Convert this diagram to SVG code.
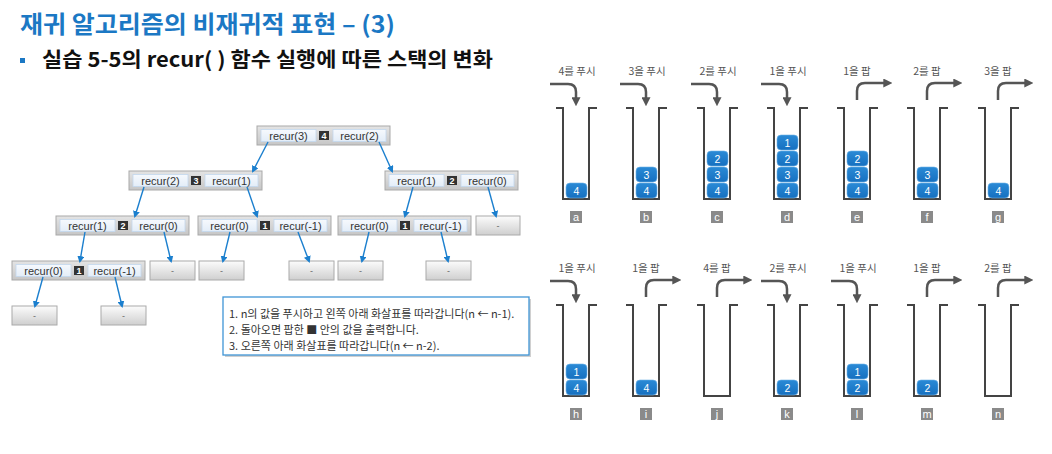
<svg xmlns="http://www.w3.org/2000/svg" width="1052" height="454" viewBox="0 0 1052 454">
<defs>
  <linearGradient id="gOuter" x1="0" y1="0" x2="0" y2="1">
    <stop offset="0" stop-color="#e4e4e4"/><stop offset="1" stop-color="#c6c6c6"/>
  </linearGradient>
  <linearGradient id="gDash" x1="0" y1="0" x2="0" y2="1">
    <stop offset="0" stop-color="#fcfcfc"/><stop offset="1" stop-color="#cfcfcf"/>
  </linearGradient>
  <linearGradient id="gCell" x1="0" y1="0" x2="0" y2="1">
    <stop offset="0" stop-color="#f6f9fd"/><stop offset="1" stop-color="#e3edf8"/>
  </linearGradient>
  <linearGradient id="gBlk" x1="0" y1="0" x2="0" y2="1">
    <stop offset="0" stop-color="#2a8ad6"/><stop offset="1" stop-color="#1670c0"/>
  </linearGradient>
  <marker id="ab" viewBox="0 0 10 10" refX="7" refY="5" markerWidth="7" markerHeight="7" orient="auto" markerUnits="userSpaceOnUse">
    <path d="M0,0 L10,5 L0,10 z" fill="#1b7fce"/>
  </marker>
  <marker id="ag" viewBox="0 0 10 10" refX="3" refY="5" markerWidth="9" markerHeight="9" orient="auto" markerUnits="userSpaceOnUse">
    <path d="M0,0 L10,5 L0,10 z" fill="#555555"/>
  </marker>
</defs>
<style>
  .title{font-family:"Noto Sans CJK KR","Noto Sans",sans-serif;font-weight:700;font-size:23.5px;fill:#1b78c4}
  .sub{font-family:"Noto Sans CJK KR","Noto Sans",sans-serif;font-weight:700;font-size:20.5px;fill:#111111}
  .outer{fill:url(#gOuter);stroke:#a9a9a9;stroke-width:1}
  .cell{fill:url(#gCell);stroke:#c3d7ee;stroke-width:0.8}
  .sq{fill:#333333}
  .sqt{font-family:"Liberation Sans",Arial,sans-serif;font-weight:700;font-size:9px;fill:#ffffff;text-anchor:middle}
  .ct{font-family:"Liberation Sans",Arial,sans-serif;font-size:11px;fill:#333333;text-anchor:middle}
  .dash{fill:url(#gDash);stroke:#aaaaaa;stroke-width:1}
  .dt{font-family:"Liberation Sans",Arial,sans-serif;font-size:9px;fill:#666666;text-anchor:middle}
  .conn path{fill:none;stroke:#1b7fce;stroke-width:1.4}
  .lg{fill:#ffffff;stroke:#3f95d6;stroke-width:1.3}
  .lgs{fill:#d0d0d0}
  .lt{font-family:"Noto Sans CJK KR","Noto Sans",sans-serif;font-size:11px;fill:#333333}
  .sl{font-family:"Noto Sans CJK KR","Noto Sans",sans-serif;font-size:10.5px;fill:#555555;text-anchor:middle}
  .arr{fill:none;stroke:#555555;stroke-width:2.5}
  .wall{fill:none;stroke:#444444;stroke-width:2}
  .blk{fill:url(#gBlk);stroke:#6fb2e6;stroke-width:0.6}
  .bt{font-family:"Liberation Sans",Arial,sans-serif;font-size:10.5px;fill:#ffffff;text-anchor:middle}
  .lb{fill:#8a8a8a}
  .lbt{font-family:"Liberation Sans",Arial,sans-serif;font-size:11px;fill:#ffffff;text-anchor:middle}
</style>

<g id="header">
  <text class="title" x="20" y="33" textLength="375" lengthAdjust="spacingAndGlyphs">재귀 알고리즘의 비재귀적 표현 – (3)</text>
  <rect x="20" y="58" width="5" height="5" fill="#1b78c4"/>
  <text class="sub" x="42" y="66.5" textLength="451" lengthAdjust="spacingAndGlyphs">실습 5-5의 recur( ) 함수 실행에 따른 스택의 변화</text>
</g>

<!-- tree nodes -->
<g id="n1">
  <rect class="outer" x="257" y="126" width="133" height="19"/>
  <rect class="cell" x="261" y="129.5" width="55" height="12"/>
  <rect class="sq" x="319" y="131" width="10" height="9"/>
  <text class="sqt" x="324" y="138.8">4</text>
  <rect class="cell" x="333" y="129.5" width="53" height="12"/>
  <text class="ct" x="288.5" y="139.5">recur(3)</text>
  <text class="ct" x="359.5" y="139.5">recur(2)</text>
</g>
<g id="n2">
  <rect class="outer" x="129" y="171" width="133" height="19"/>
  <rect class="cell" x="133" y="174.5" width="55" height="12"/>
  <rect class="sq" x="191" y="176" width="10" height="9"/>
  <text class="sqt" x="196" y="183.8">3</text>
  <rect class="cell" x="205" y="174.5" width="53" height="12"/>
  <text class="ct" x="160.5" y="184.5">recur(2)</text>
  <text class="ct" x="231.5" y="184.5">recur(1)</text>
</g>
<g id="n3">
  <rect class="outer" x="385" y="171" width="133" height="19"/>
  <rect class="cell" x="389" y="174.5" width="55" height="12"/>
  <rect class="sq" x="447" y="176" width="10" height="9"/>
  <text class="sqt" x="452" y="183.8">2</text>
  <rect class="cell" x="461" y="174.5" width="53" height="12"/>
  <text class="ct" x="416.5" y="184.5">recur(1)</text>
  <text class="ct" x="487.5" y="184.5">recur(0)</text>
</g>
<g id="n4">
  <rect class="outer" x="56" y="216" width="133" height="19"/>
  <rect class="cell" x="60" y="219.5" width="55" height="12"/>
  <rect class="sq" x="118" y="221" width="10" height="9"/>
  <text class="sqt" x="123" y="228.8">2</text>
  <rect class="cell" x="132" y="219.5" width="53" height="12"/>
  <text class="ct" x="87.5" y="229.5">recur(1)</text>
  <text class="ct" x="158.5" y="229.5">recur(0)</text>
</g>
<g id="n5">
  <rect class="outer" x="198" y="216" width="133" height="19"/>
  <rect class="cell" x="202" y="219.5" width="55" height="12"/>
  <rect class="sq" x="260" y="221" width="10" height="9"/>
  <text class="sqt" x="265" y="228.8">1</text>
  <rect class="cell" x="274" y="219.5" width="53" height="12"/>
  <text class="ct" x="229.5" y="229.5">recur(0)</text>
  <text class="ct" x="300.5" y="229.5">recur(-1)</text>
</g>
<g id="n6">
  <rect class="outer" x="338" y="216" width="133" height="19"/>
  <rect class="cell" x="342" y="219.5" width="55" height="12"/>
  <rect class="sq" x="400" y="221" width="10" height="9"/>
  <text class="sqt" x="405" y="228.8">1</text>
  <rect class="cell" x="414" y="219.5" width="53" height="12"/>
  <text class="ct" x="369.5" y="229.5">recur(0)</text>
  <text class="ct" x="440.5" y="229.5">recur(-1)</text>
</g>
<g id="n7">
  <rect class="outer" x="12" y="261" width="133" height="19"/>
  <rect class="cell" x="16" y="264.5" width="55" height="12"/>
  <rect class="sq" x="74" y="266" width="10" height="9"/>
  <text class="sqt" x="79" y="273.8">1</text>
  <rect class="cell" x="88" y="264.5" width="53" height="12"/>
  <text class="ct" x="43.5" y="274.5">recur(0)</text>
  <text class="ct" x="114.5" y="274.5">recur(-1)</text>
</g>
<g id="d1"><rect class="dash" x="476" y="216" width="44" height="19"/><text class="dt" x="498" y="228.5">-</text></g>
<g id="d2"><rect class="dash" x="150" y="261" width="45" height="19"/><text class="dt" x="172.5" y="273.5">-</text></g>
<g id="d3"><rect class="dash" x="199" y="261" width="45" height="19"/><text class="dt" x="221.5" y="273.5">-</text></g>
<g id="d4"><rect class="dash" x="289" y="261" width="45" height="19"/><text class="dt" x="311.5" y="273.5">-</text></g>
<g id="d5"><rect class="dash" x="338" y="261" width="45" height="19"/><text class="dt" x="360.5" y="273.5">-</text></g>
<g id="d6"><rect class="dash" x="426" y="261" width="45" height="19"/><text class="dt" x="448.5" y="273.5">-</text></g>
<g id="d7"><rect class="dash" x="12" y="306" width="45" height="19"/><text class="dt" x="34.5" y="318.5">-</text></g>
<g id="d8"><rect class="dash" x="101" y="306" width="45" height="19"/><text class="dt" x="123.5" y="318.5">-</text></g>

<g id="connectors" class="conn">
  <path d="M268,142 L253,171" marker-end="url(#ab)"/>
  <path d="M379,142 L392,171" marker-end="url(#ab)"/>
  <path d="M144,187 L135,216" marker-end="url(#ab)"/>
  <path d="M247,187 L257,216" marker-end="url(#ab)"/>
  <path d="M413,187 L405,216" marker-end="url(#ab)"/>
  <path d="M488,187 L496,216" marker-end="url(#ab)"/>
  <path d="M85,232 L80,261" marker-end="url(#ab)"/>
  <path d="M164,232 L171,261" marker-end="url(#ab)"/>
  <path d="M230,232 L223,261" marker-end="url(#ab)"/>
  <path d="M298,232 L309,261" marker-end="url(#ab)"/>
  <path d="M369,232 L362,261" marker-end="url(#ab)"/>
  <path d="M441,232 L448,261" marker-end="url(#ab)"/>
  <path d="M43,277 L35,306" marker-end="url(#ab)"/>
  <path d="M115,277 L122,306" marker-end="url(#ab)"/>
</g>

<g id="legend">
  <rect class="lgs" x="225" y="299" width="306" height="58"/>
  <rect class="lg" x="223" y="297" width="306" height="58"/>
  <text class="lt" x="229" y="318">1. n의 값을 푸시하고 왼쪽 아래 화살표를 따라갑니다(n ← n-1).</text>
  <text class="lt" x="229" y="334">2. 돌아오면 팝한 ■ 안의 값을 출력합니다.</text>
  <text class="lt" x="229" y="350">3. 오른쪽 아래 화살표를 따라갑니다(n ← n-2).</text>
</g>

<!-- stacks top row -->
<g id="stack-a">
  <text class="sl" x="577" y="75">4를 푸시</text>
  <path class="arr" d="M550,84 H568 Q576,84 576,92 V100" marker-end="url(#ag)"/>
  <path class="wall" d="M556,108 H563 V199 H589 V108 H597"/>
  <rect class="blk" x="566" y="183" width="21" height="15" rx="4"/><text class="bt" x="576.5" y="194.5">4</text>
  <rect class="lb" x="570" y="211" width="12" height="12"/><text class="lbt" x="576" y="221">a</text>
</g>
<g id="stack-b">
  <text class="sl" x="647" y="75">3을 푸시</text>
  <path class="arr" d="M620,84 H638 Q646,84 646,92 V100" marker-end="url(#ag)"/>
  <path class="wall" d="M626,108 H633 V199 H659 V108 H667"/>
  <rect class="blk" x="636" y="183" width="21" height="15" rx="4"/><text class="bt" x="646.5" y="194.5">4</text>
  <rect class="blk" x="636" y="167" width="21" height="15" rx="4"/><text class="bt" x="646.5" y="178.5">3</text>
  <rect class="lb" x="640" y="211" width="12" height="12"/><text class="lbt" x="646" y="221">b</text>
</g>
<g id="stack-c">
  <text class="sl" x="718" y="75">2를 푸시</text>
  <path class="arr" d="M691,84 H709 Q717,84 717,92 V100" marker-end="url(#ag)"/>
  <path class="wall" d="M697,108 H704 V199 H730 V108 H738"/>
  <rect class="blk" x="707" y="183" width="21" height="15" rx="4"/><text class="bt" x="717.5" y="194.5">4</text>
  <rect class="blk" x="707" y="167" width="21" height="15" rx="4"/><text class="bt" x="717.5" y="178.5">3</text>
  <rect class="blk" x="707" y="151" width="21" height="15" rx="4"/><text class="bt" x="717.5" y="162.5">2</text>
  <rect class="lb" x="711" y="211" width="12" height="12"/><text class="lbt" x="717" y="221">c</text>
</g>
<g id="stack-d">
  <text class="sl" x="788" y="75">1을 푸시</text>
  <path class="arr" d="M761,84 H779 Q787,84 787,92 V100" marker-end="url(#ag)"/>
  <path class="wall" d="M767,108 H774 V199 H800 V108 H808"/>
  <rect class="blk" x="777" y="183" width="21" height="15" rx="4"/><text class="bt" x="787.5" y="194.5">4</text>
  <rect class="blk" x="777" y="167" width="21" height="15" rx="4"/><text class="bt" x="787.5" y="178.5">3</text>
  <rect class="blk" x="777" y="151" width="21" height="15" rx="4"/><text class="bt" x="787.5" y="162.5">2</text>
  <rect class="blk" x="777" y="135" width="21" height="15" rx="4"/><text class="bt" x="787.5" y="146.5">1</text>
  <rect class="lb" x="781" y="211" width="12" height="12"/><text class="lbt" x="787" y="221">d</text>
</g>
<g id="stack-e">
  <text class="sl" x="857" y="75">1을 팝</text>
  <path class="arr" d="M857,100 V91 Q857,83 865,83 H886" marker-end="url(#ag)"/>
  <path class="wall" d="M837,108 H844 V199 H870 V108 H878"/>
  <rect class="blk" x="847" y="183" width="21" height="15" rx="4"/><text class="bt" x="857.5" y="194.5">4</text>
  <rect class="blk" x="847" y="167" width="21" height="15" rx="4"/><text class="bt" x="857.5" y="178.5">3</text>
  <rect class="blk" x="847" y="151" width="21" height="15" rx="4"/><text class="bt" x="857.5" y="162.5">2</text>
  <rect class="lb" x="851" y="211" width="12" height="12"/><text class="lbt" x="857" y="221">e</text>
</g>
<g id="stack-f">
  <text class="sl" x="927" y="75">2를 팝</text>
  <path class="arr" d="M927,100 V91 Q927,83 935,83 H956" marker-end="url(#ag)"/>
  <path class="wall" d="M907,108 H914 V199 H940 V108 H948"/>
  <rect class="blk" x="917" y="183" width="21" height="15" rx="4"/><text class="bt" x="927.5" y="194.5">4</text>
  <rect class="blk" x="917" y="167" width="21" height="15" rx="4"/><text class="bt" x="927.5" y="178.5">3</text>
  <rect class="lb" x="921" y="211" width="12" height="12"/><text class="lbt" x="927" y="221">f</text>
</g>
<g id="stack-g">
  <text class="sl" x="998" y="75">3을 팝</text>
  <path class="arr" d="M998,100 V91 Q998,83 1006,83 H1027" marker-end="url(#ag)"/>
  <path class="wall" d="M978,108 H985 V199 H1011 V108 H1019"/>
  <rect class="blk" x="988" y="183" width="21" height="15" rx="4"/><text class="bt" x="998.5" y="194.5">4</text>
  <rect class="lb" x="992" y="211" width="12" height="12"/><text class="lbt" x="998" y="221">g</text>
</g>

<!-- stacks bottom row -->
<g id="stack-h">
  <text class="sl" x="577" y="272">1을 푸시</text>
  <path class="arr" d="M550,281 H568 Q576,281 576,289 V297" marker-end="url(#ag)"/>
  <path class="wall" d="M556,305 H563 V396 H589 V305 H597"/>
  <rect class="blk" x="566" y="380" width="21" height="15" rx="4"/><text class="bt" x="576.5" y="391.5">4</text>
  <rect class="blk" x="566" y="364" width="21" height="15" rx="4"/><text class="bt" x="576.5" y="375.5">1</text>
  <rect class="lb" x="570" y="408" width="12" height="12"/><text class="lbt" x="576" y="418">h</text>
</g>
<g id="stack-i">
  <text class="sl" x="646" y="272">1을 팝</text>
  <path class="arr" d="M646,297 V288 Q646,280 654,280 H675" marker-end="url(#ag)"/>
  <path class="wall" d="M626,305 H633 V396 H659 V305 H667"/>
  <rect class="blk" x="636" y="380" width="21" height="15" rx="4"/><text class="bt" x="646.5" y="391.5">4</text>
  <rect class="lb" x="640" y="408" width="12" height="12"/><text class="lbt" x="646" y="418">i</text>
</g>
<g id="stack-j">
  <text class="sl" x="717" y="272">4를 팝</text>
  <path class="arr" d="M717,297 V288 Q717,280 725,280 H746" marker-end="url(#ag)"/>
  <path class="wall" d="M697,305 H704 V396 H730 V305 H738"/>
  <rect class="lb" x="711" y="408" width="12" height="12"/><text class="lbt" x="717" y="418">j</text>
</g>
<g id="stack-k">
  <text class="sl" x="788" y="272">2를 푸시</text>
  <path class="arr" d="M761,281 H779 Q787,281 787,289 V297" marker-end="url(#ag)"/>
  <path class="wall" d="M767,305 H774 V396 H800 V305 H808"/>
  <rect class="blk" x="777" y="380" width="21" height="15" rx="4"/><text class="bt" x="787.5" y="391.5">2</text>
  <rect class="lb" x="781" y="408" width="12" height="12"/><text class="lbt" x="787" y="418">k</text>
</g>
<g id="stack-l">
  <text class="sl" x="858" y="272">1을 푸시</text>
  <path class="arr" d="M831,281 H849 Q857,281 857,289 V297" marker-end="url(#ag)"/>
  <path class="wall" d="M837,305 H844 V396 H870 V305 H878"/>
  <rect class="blk" x="847" y="380" width="21" height="15" rx="4"/><text class="bt" x="857.5" y="391.5">2</text>
  <rect class="blk" x="847" y="364" width="21" height="15" rx="4"/><text class="bt" x="857.5" y="375.5">1</text>
  <rect class="lb" x="851" y="408" width="12" height="12"/><text class="lbt" x="857" y="418">l</text>
</g>
<g id="stack-m">
  <text class="sl" x="927" y="272">1을 팝</text>
  <path class="arr" d="M927,297 V288 Q927,280 935,280 H956" marker-end="url(#ag)"/>
  <path class="wall" d="M907,305 H914 V396 H940 V305 H948"/>
  <rect class="blk" x="917" y="380" width="21" height="15" rx="4"/><text class="bt" x="927.5" y="391.5">2</text>
  <rect class="lb" x="921" y="408" width="12" height="12"/><text class="lbt" x="927" y="418">m</text>
</g>
<g id="stack-n">
  <text class="sl" x="998" y="272">2를 팝</text>
  <path class="arr" d="M998,297 V288 Q998,280 1006,280 H1027" marker-end="url(#ag)"/>
  <path class="wall" d="M978,305 H985 V396 H1011 V305 H1019"/>
  <rect class="lb" x="992" y="408" width="12" height="12"/><text class="lbt" x="998" y="418">n</text>
</g>
</svg>
